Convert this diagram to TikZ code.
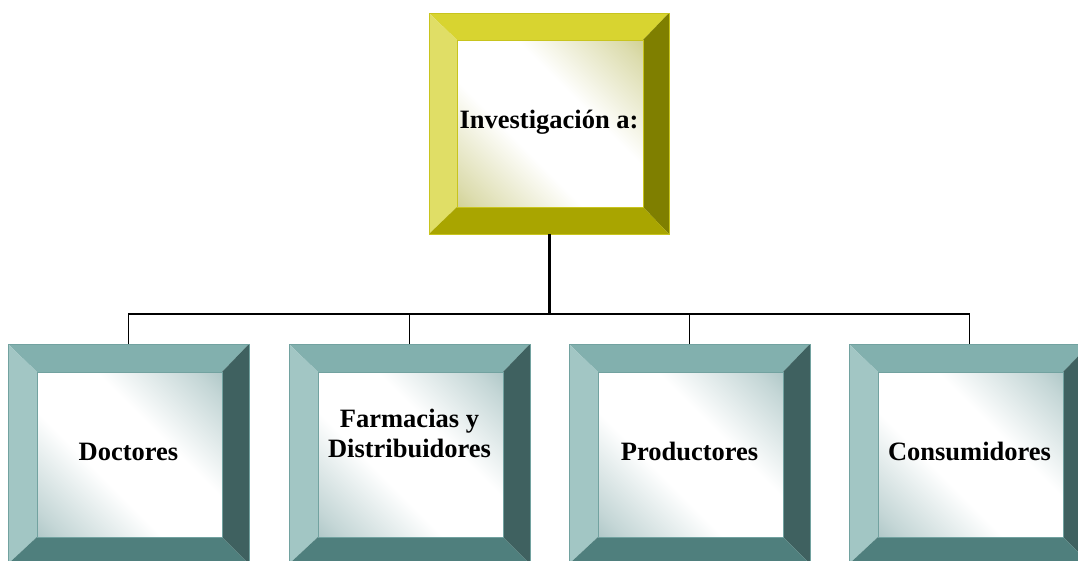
\documentclass[tikz,border=0pt]{standalone}
\usepackage{fontspec}
\setmainfont{Liberation Serif}
\usetikzlibrary{calc,backgrounds}
% yellow palette
\definecolor{yTop}{HTML}{D8D430}
\definecolor{yLeft}{HTML}{E0DE66}
\definecolor{yRight}{HTML}{7F7F00}
\definecolor{yBot}{HTML}{A9A500}
\definecolor{yEdge}{HTML}{C8C41E}
\definecolor{yCorner}{HTML}{B4B450}
\colorlet{yMid}{yCorner!45!white}
% teal palette
\definecolor{tTop}{HTML}{82B0AE}
\definecolor{tLeft}{HTML}{A2C6C4}
\definecolor{tRight}{HTML}{3F6160}
\definecolor{tBot}{HTML}{4F7F7D}
\definecolor{tEdge}{HTML}{72A2A0}
\definecolor{tCorner}{HTML}{7CA4A4}
\colorlet{tMid}{tCorner!45!white}
\pgfdeclarehorizontalshading{yInner}{100bp}{color(0bp)=(yCorner); color(20bp)=(yMid); color(40bp)=(white); color(60bp)=(white); color(80bp)=(yMid); color(100bp)=(yCorner)}
\pgfdeclarehorizontalshading{tInner}{100bp}{color(0bp)=(tCorner); color(20bp)=(tMid); color(40bp)=(white); color(60bp)=(white); color(80bp)=(tMid); color(100bp)=(tCorner)}
\newcommand\bevelbox[6]{% #1 node, #2 top, #3 left, #4 right, #5 bottom, #6 palette
  \begin{scope}[on background layer]
    \coordinate (#1-inw) at ($(#1.north west)+(#3,#2)$);
    \coordinate (#1-ine) at ($(#1.north east)+(-#4,#2)$);
    \coordinate (#1-ise) at ($(#1.south east)+(-#4,-#5)$);
    \coordinate (#1-isw) at ($(#1.south west)+(#3,-#5)$);
    \fill[#6Top] (#1.north west) -- (#1.north east) -- (#1-ine) -- (#1-inw) -- cycle;
    \fill[#6Left] (#1.north west) -- (#1-inw) -- (#1-isw) -- (#1.south west) -- cycle;
    \fill[#6Right] (#1.north east) -- (#1.south east) -- (#1-ise) -- (#1-ine) -- cycle;
    \fill[#6Bot] (#1.south west) -- (#1-isw) -- (#1-ise) -- (#1.south east) -- cycle;
    \shade[shading=#6Inner, shading angle=45] (#1-inw) rectangle (#1-ise);
    \draw[#6Edge, line width=0.8] (#1.north west) rectangle (#1.south east);
    \draw[#6Edge, line width=0.8] (#1-inw) rectangle (#1-ise);
  \end{scope}}
\begin{document}
\begin{tikzpicture}[x=1pt,y=-1pt,
  frame/.style={inner sep=0pt, outer sep=0pt, minimum width=241pt, minimum height=220pt},
  topframe/.style={inner sep=0pt, outer sep=0pt, minimum width=240pt, minimum height=221pt},
  lbl/.style={inner sep=0pt, align=center, font=\fontsize{26.5}{30}\selectfont\bfseries},
  conn/.style={line width=1.8pt, black},
  trunk/.style={line width=3pt, black}]
\useasboundingbox (0,0) rectangle (1078,560);
\begin{scope}[on background layer]
\fill[white] (0,0) rectangle (1078,560);
\end{scope}

\node[topframe] (top) at (549,123.5) {};
\node[frame] (doc) at (128.5,454) {};
\node[frame] (far) at (409.5,454) {};
\node[frame] (pro) at (689.5,454) {};
\node[frame] (con) at (969.5,454) {};

\bevelbox{top}{27}{28}{26}{27}{y}
\bevelbox{doc}{28}{29}{27}{27}{t}
\bevelbox{far}{28}{29}{27}{27}{t}
\bevelbox{pro}{28}{29}{27}{27}{t}
\bevelbox{con}{28}{29}{27}{27}{t}

\node[lbl, anchor=base] (topT) at (549,128) {Investigación a:};
\node[lbl, anchor=base] (docT) at (128.5,460) {Doctores};
\node[lbl, anchor=base] (farT) at (409.5,457) {Farmacias y\\Distribuidores};
\node[lbl, anchor=base] (proT) at (689.5,460) {Productores};
\node[lbl, anchor=base] (conT) at (969.5,460) {Consumidores};

\coordinate (hub) at (549,314);
\draw[trunk] (top.south) -- (hub);
\draw[conn] (doc.north) |- (hub) -| (con.north);
\draw[conn] (far.north) -- (far.north |- hub);
\draw[conn] (pro.north) -- (pro.north |- hub);
\end{tikzpicture}
\end{document}
